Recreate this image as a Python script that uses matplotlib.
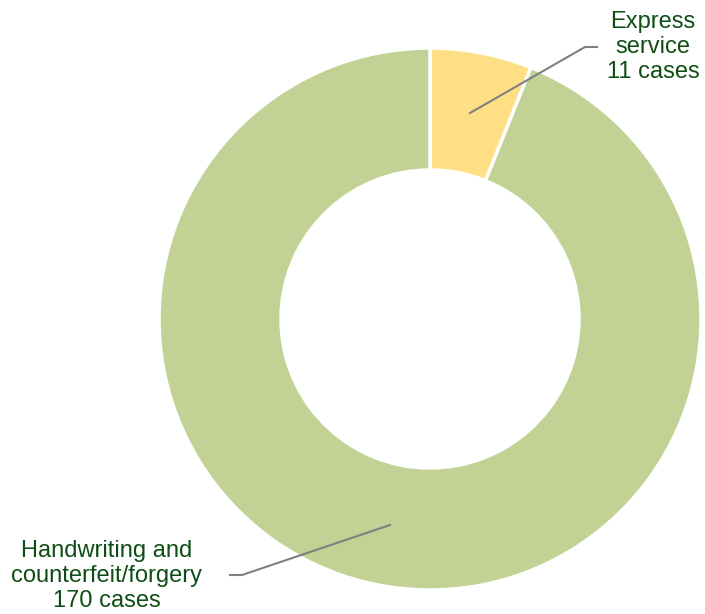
import matplotlib.pyplot as plt

# Case counts by category
categories = ["Express\nservice", "Handwriting and\ncounterfeit/forgery"]
cases = [11, 170]
colors = ["#FFDF85", "#C1D294"]

TEXT_COLOR = "#0E4D14"
LINE_COLOR = "#808080"

fig = plt.figure(figsize=(7.05, 6.14), dpi=100)
ax = fig.add_axes([0, 0, 1, 1])

wedges, _ = ax.pie(cases, colors=colors, startangle=90, counterclock=False,
                   radius=271, wedgeprops=dict(width=122, edgecolor="white", linewidth=2.5))

# pie() resets the limits, so set the canvas extent afterwards
ax.set_xlim(-430, 275)
ax.set_ylim(-295, 319)
ax.set_aspect("equal")
ax.axis("off")

labels = [f"{c}\n{n} cases" for c, n in zip(categories, cases)]

# Leader lines and labels
ax.plot([40, 155, 167], [206, 272, 272], color=LINE_COLOR, lw=1.5)
ax.text(223, 272, labels[0], ha="center", va="center", fontsize=17,
        color=TEXT_COLOR, family="Liberation Sans", linespacing=1.17)

ax.plot([-40, -188, -200], [-206, -256, -256], color=LINE_COLOR, lw=1.5)
ax.text(-323, -257, labels[1], ha="center", va="center", fontsize=17,
        color=TEXT_COLOR, family="Liberation Sans", linespacing=1.17)

fig.savefig("out.png", dpi=100)
